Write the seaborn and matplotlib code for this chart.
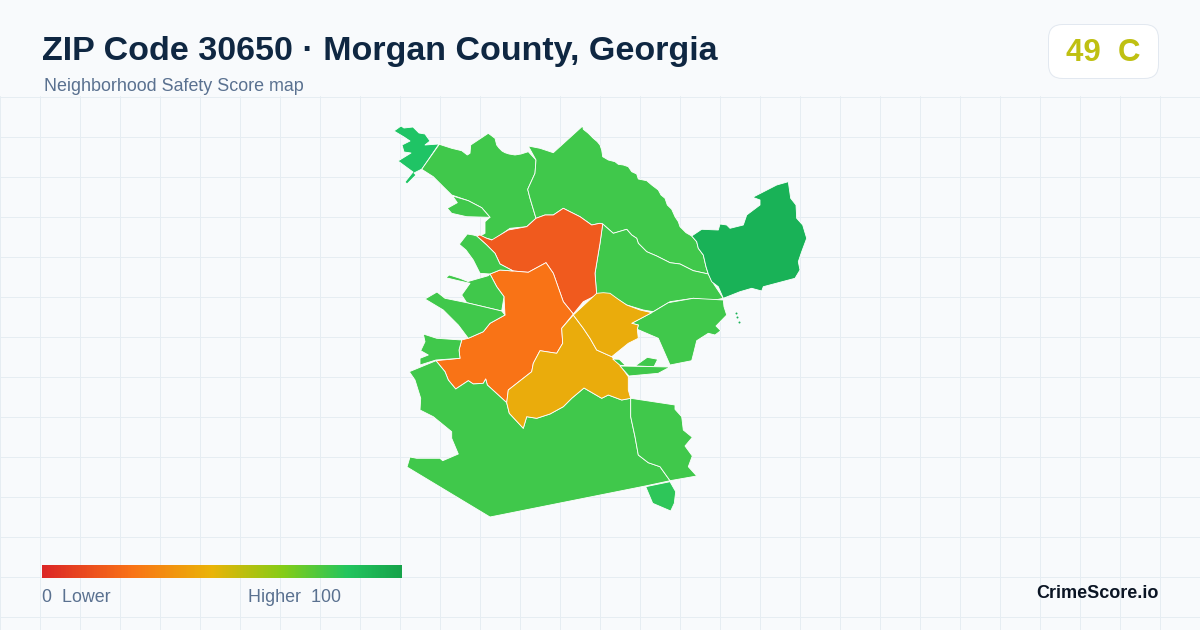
#!/usr/bin/env python3
"""ZIP 30650 safety score map, redrawn from outlines read off the picture."""

import matplotlib
matplotlib.use("Agg")
import matplotlib.pyplot as plt
import numpy as np
import pandas as pd
import seaborn as sns
from matplotlib.colors import LinearSegmentedColormap
from matplotlib.patches import FancyBboxPatch, Polygon

# --- Data: outlines in picture units, tract by tract ---
NW_TIP = [(394, 131), (401, 126), (404, 128), (413, 127), (419, 133), (425, 134), (430, 141), (425, 145), (439, 144),
          (422, 169), (414, 173), (416, 175), (407, 184), (405, 182), (413, 172), (398, 161), (411, 153), (404, 152),
          (402, 145), (410, 141), (404, 137)]
NORTH_WEST = [(439.3, 144.3), (451.7, 148.3), (461.7, 150.7), (467.3, 155), (470, 153.3), (470.7, 145), (488.3, 133.3),
              (495, 138.3), (496.7, 145), (499, 148), (502, 151), (505, 152.7), (509, 154), (515, 155), (521, 154),
              (528.3, 151.7), (536, 160), (535, 173.3), (527.7, 189.3), (530, 198.3), (536, 218.3), (526.7, 226.7),
              (510, 228.3), (493.3, 240), (486.7, 238.3), (480, 236), (485, 233.3), (485, 221.7), (490, 217.3),
              (481.7, 207.7), (468.3, 200.7), (451.7, 195), (443.3, 186.7), (433.3, 176.7), (421.7, 169.3)]
NW_SLIVER = [(452.7, 196), (457.3, 202.7), (447.3, 208.3), (451.7, 213.3), (466.7, 216.7), (490, 217.3),
             (481.7, 207.7), (468.3, 200.7)]
NORTH = [(528.3, 146), (540, 148.3), (553.3, 152.7), (582.7, 126), (583.3, 129.3), (588.3, 133.3), (593.3, 138.3),
         (597.3, 141.7), (600, 145), (601.7, 150), (602.7, 156.7), (608.3, 160), (615, 161.7), (618.3, 164.3),
         (623.3, 165), (628.3, 166.7), (631.7, 171.7), (636.7, 174), (638.3, 179), (646.7, 180.7), (651.7, 185),
         (658.3, 190), (661, 195), (665, 198.3), (667.3, 205), (671.7, 209.3), (675, 216.7), (678.3, 221.7),
         (680, 226.7), (686, 232.7), (691.7, 236), (696.7, 241.7), (698.3, 248.3), (703.3, 255), (706, 266.7),
         (708.3, 274), (693.3, 270.7), (680, 264), (670, 262.7), (656.7, 256), (646.7, 251.7), (638.3, 243.3),
         (636.7, 238.3), (631.7, 235), (626.7, 229.3), (613.3, 233.3), (602.7, 224), (600, 223.3), (591.7, 225),
         (580, 216.7), (570, 211.7), (563.3, 208.3), (553.3, 215), (545, 215), (536, 218.3), (530, 198.3),
         (527.7, 189.3), (535, 173.3), (536, 160)]
EAST_MID = [(602.7, 224), (613.3, 233.3), (626.7, 229.3), (631.7, 235), (636.7, 238.3), (638.3, 243.3), (646.7, 251.7),
            (656.7, 256), (670, 262.7), (680, 264), (693.3, 270.7), (708.3, 274), (713.3, 283.3), (723.3, 298.3),
            (711.7, 300.7), (693.3, 298.3), (670, 301.7), (653.3, 311.7), (643.3, 310), (626.7, 305), (613.3, 296.7),
            (605, 293.3), (596.7, 295), (595, 273.3), (600, 243.3)]
SOUTH_EAST = [(723.3, 300), (693.3, 298.3), (668.3, 302.7), (653.3, 311.7), (631.7, 323.3), (638.3, 325), (637.3, 329.3),
              (658.3, 338.3), (670, 365), (691.7, 360.7), (694, 351.7), (696.7, 340.7), (708.3, 333.3), (715, 335),
              (720.7, 330.7), (716, 326), (726.7, 315), (724, 306.7)]
FAR_EAST = [(691.7, 236), (701.7, 229.3), (718.3, 230), (720, 224), (726.7, 225), (730, 228.3), (743.3, 225),
            (746.7, 215), (760, 205), (760, 200), (752.7, 197.3), (776.7, 185), (788.3, 181.7), (790.7, 198.3),
            (796, 205), (796.7, 218.3), (802.7, 225), (806.7, 238.3), (801.7, 251.7), (798.3, 261.7), (800, 270),
            (795, 278.3), (763.3, 286.7), (761.7, 291), (751.7, 288.3), (740, 291.7), (723.3, 298.3), (718.3, 286.7),
            (711.7, 281.7), (708.3, 274), (706, 266.7), (703.3, 255), (698.3, 248.3), (696.7, 241.7)]
RED_CORE = [(476.7, 236), (480, 235), (486.7, 238.3), (491.7, 240), (508.3, 230), (526.7, 226.7), (536, 218.3),
            (545, 215), (553.3, 215), (563.3, 208.3), (570, 211.7), (580, 216.7), (591.7, 225), (600, 223.3),
            (602.7, 224), (600, 243.3), (595, 273.3), (596.7, 295), (583.3, 301.7), (573.3, 314), (563.3, 301.7),
            (553.3, 273.3), (546, 262.7), (528.3, 272.3), (513.3, 271), (500, 264), (495, 253.3), (486.7, 245)]
ORANGE_CORE = [(490, 274), (500, 270), (513.3, 271), (528.3, 272.3), (546, 262.7), (553.3, 273.3), (563.3, 301.7),
               (573.3, 314), (561.7, 328.3), (562.7, 343.3), (556.7, 353.3), (540, 350.7), (533.3, 363.3),
               (531.7, 371.7), (508.3, 390), (506.7, 402.7), (498.3, 395), (487.3, 385), (485.7, 379), (483.3, 383.3),
               (473.3, 384), (468.3, 380.7), (455.7, 389), (448.3, 380), (445, 371.7), (436, 360.7), (460, 358.3),
               (459, 350), (461.7, 340), (468.3, 338.3), (483.3, 331.7), (490, 323.3), (505, 315), (504, 296.7),
               (496.7, 286.7)]
WEST_A = [(459.3, 244.3), (467.3, 234), (473.3, 235), (476.7, 236), (486.7, 245), (495, 253.3), (500, 264), (513.3, 271),
          (500, 270), (490, 274), (480, 273.3), (473.3, 260), (466, 250)]
WEST_B = [(445.7, 277.7), (449.3, 275), (460, 278.3), (468, 281.5), (488.3, 275.7), (490, 274), (496.7, 286.7),
          (504, 296.7), (501.7, 311), (466.7, 302.7), (461.7, 295), (470, 283.3), (458.3, 280.7)]
WEST_C = [(425, 299), (437, 292), (445, 298.3), (466.7, 302.7), (501.7, 311), (505, 315), (490, 323.3), (483.3, 331.7),
          (468.3, 338.3), (458.3, 325), (443.3, 310)]
WEST_D = [(423.3, 334), (436.7, 338.3), (461.7, 340), (459, 350), (460, 358.3), (436, 360), (420, 365), (420, 358.3),
          (428.3, 355), (420.7, 350.7), (425, 341.7)]
SOUTH = [(409.3, 371.7), (436, 360.7), (445, 371.7), (448.3, 380), (455.7, 389), (468.3, 380.7), (473.3, 384),
         (483.3, 383.3), (485.7, 379), (487.3, 385), (498.3, 395), (506.7, 402.7), (509.3, 413.3), (523.3, 428.3),
         (526.7, 416.7), (536.7, 418.3), (550, 414), (563.3, 406.7), (571.7, 398.3), (584, 388), (601.7, 398.3),
         (608.3, 395), (621.7, 400), (630.7, 398.3), (630.7, 416.7), (635, 436.7), (638.3, 455), (648.3, 462.7),
         (660, 466.7), (670, 480.7), (646.7, 485.7), (490, 517), (407, 467), (410, 457), (416.7, 458.3), (440, 458.3),
         (442.7, 460.7), (458.3, 454), (451.7, 438.3), (451.7, 431.7), (433.3, 416.7), (420, 410), (420.7, 398.3),
         (415, 380)]
SOUTH_RIGHT = [(630.7, 398.3), (675, 405), (675, 409.3), (681.7, 416.7), (683.3, 430), (692.3, 437.3), (685, 446),
               (692.3, 456), (688.3, 466.7), (696.7, 476), (670, 480.7), (660, 466.7), (648.3, 462.7), (638.3, 455),
               (635, 436.7), (630.7, 416.7)]
SOUTH_TIP = [(645.7, 486.7), (670, 481.7), (675.7, 491.7), (674.3, 503.3), (670.7, 511), (652.7, 503.3)]
AMBER_SOUTH = [(573.3, 315), (583.3, 328.3), (590, 338.3), (596.7, 350), (611.7, 356.7), (620, 365), (628.3, 376.7),
               (628.3, 390), (630.7, 398.3), (621.7, 400), (608.3, 395), (601.7, 398.3), (584, 388), (571.7, 398.3),
               (563.3, 406.7), (550, 414), (536.7, 418.3), (526.7, 416.7), (523.3, 428.3), (509.3, 413.3),
               (506.7, 402.7), (508.3, 390), (531.7, 371.7), (533.3, 363.3), (540, 350.7), (556.7, 353.3),
               (562.7, 343.3), (561.7, 328.3)]
AMBER_NORTH = [(573.3, 315), (596.7, 293.3), (603.3, 292.7), (610, 293.3), (618.3, 299.3), (626.7, 305), (640, 310),
               (651.7, 312.7), (631.7, 323.3), (638.3, 325), (637.3, 329.3), (638.3, 338.3), (628.3, 343.3),
               (611.7, 356.7), (596.7, 350), (590, 338.3), (583.3, 328.3)]
ISLAND_UP = [(612.7, 359), (619.3, 359.3), (625, 365), (635, 366), (647.3, 357.3), (657.7, 359.3), (654, 366.7),
             (620, 365.3)]
ISLAND_LOW = [(620, 366), (670, 367), (658.3, 373.3), (629, 376)]

GREEN = "#40c84b"
AMBER = "#eaac0c"
REGIONS = [
    (NW_TIP, "#1fc465"), (NORTH_WEST, GREEN), (NW_SLIVER, GREEN), (NORTH, GREEN), (EAST_MID, GREEN),
    (SOUTH_EAST, GREEN), (FAR_EAST, "#19b257"), (RED_CORE, "#f05a1e"), (ORANGE_CORE, "#f97316"),
    (WEST_A, GREEN), (WEST_B, GREEN), (WEST_C, GREEN), (WEST_D, GREEN), (SOUTH, GREEN), (SOUTH_RIGHT, GREEN),
    (SOUTH_TIP, "#2ec659"), (AMBER_SOUTH, AMBER), (AMBER_NORTH, AMBER), (ISLAND_UP, GREEN), (ISLAND_LOW, GREEN),
]

SPECK_X = [736, 737, 739]
SPECK_Y = [313, 317, 322]

SCALE_STOPS = [0.0, 0.25, 0.47, 0.67, 0.85, 1.0]
SCALE_COLORS = ["#dc2626", "#f97316", "#eab308", "#84cc16", "#22c55e", "#16a34a"]

TITLE = "ZIP Code 30650 \u00b7 Morgan County, Georgia"
SUBTITLE = "Neighborhood Safety Score map"
BADGE = "49  C"

W, H = 1200, 630
BG = "#f8fafc"
PX = 0.72  # one pixel in points at dpi 100


def main():
    sns.set_theme(style="white")
    plt.rcParams["font.family"] = ["Liberation Sans", "DejaVu Sans"]

    fig = plt.figure(figsize=(W / 100, H / 100), dpi=100, facecolor=BG)

    # background grid only below the header band
    grid_ax = fig.add_axes([0, 0, 1, (H - 96) / H], facecolor=BG)
    grid_ax.set_xlim(0, W)
    grid_ax.set_ylim(H, 96)
    grid_ax.set_xticks(np.arange(0.5, W + 1, 40))
    grid_ax.set_yticks(np.arange(96.5, H, 40))
    grid_ax.grid(True, color="#e6edf2", linewidth=PX)
    grid_ax.tick_params(length=0, labelbottom=False, labelleft=False)
    sns.despine(ax=grid_ax, left=True, bottom=True)

    # everything else sits on a transparent axes in picture units
    ax = fig.add_axes([0, 0, 1, 1])
    ax.patch.set_alpha(0)

    for outline, color in REGIONS:
        ax.add_patch(Polygon(outline, closed=True, facecolor=color, edgecolor="white", linewidth=0.6, joinstyle="round"))

    specks = pd.DataFrame({"x": SPECK_X, "y": SPECK_Y})
    sns.scatterplot(data=specks, x="x", y="y", ax=ax, color="#19b257", s=2, linewidth=0, legend=False)
    ax.set_xlim(0, W)
    ax.set_ylim(H, 0)
    ax.axis("off")

    ax.text(42, 51.5, TITLE, fontsize=24.5, fontweight="bold", color="#0f2742", va="center", ha="left")
    ax.text(44, 86.5, SUBTITLE, fontsize=12.9, color="#5a7190", va="center", ha="left")

    ax.add_patch(FancyBboxPatch((1048.5, 24.5), 110, 54, boxstyle="round,pad=0,rounding_size=14",
                                facecolor="white", edgecolor="#e2e8f0", linewidth=PX))
    ax.text(1103, 53, BADGE, fontsize=22.5, fontweight="bold", color="#bfc012", va="center", ha="center")

    # score legend as a one-row heatmap
    cmap = LinearSegmentedColormap.from_list("score", list(zip(SCALE_STOPS, SCALE_COLORS)))
    scale_ax = fig.add_axes([42 / W, 1 - 578 / H, 360 / W, 13 / H])
    sns.heatmap(np.linspace(0, 100, 360).reshape(1, -1), ax=scale_ax, cmap=cmap, vmin=0, vmax=100, cbar=False,
                xticklabels=False, yticklabels=False, rasterized=True)

    ax.text(42, 597.5, "0  Lower", fontsize=12.9, color="#5a7190", va="center", ha="left")
    ax.text(341, 597.5, "Higher  100", fontsize=12.9, color="#5a7190", va="center", ha="right")
    ax.text(1158.5, 594, "CrimeScore.io", fontsize=13, fontweight="bold", color="#0b1524", va="center", ha="right")

    fig.savefig("out.png", dpi=100, facecolor=BG)
    plt.close(fig)


if __name__ == "__main__":
    main()
